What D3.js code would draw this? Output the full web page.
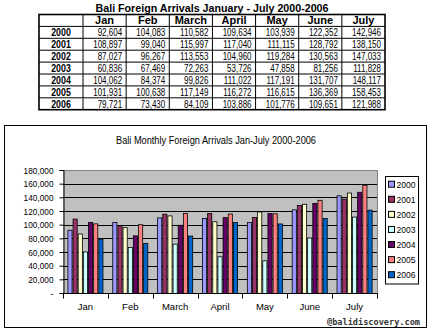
<!DOCTYPE html>
<html><head><meta charset="utf-8">
<script src="https://cdn.jsdelivr.net/npm/d3@7"></script>
<style>body{margin:0;background:#fff}svg{display:block}</style>
</head><body>
<svg id="c" width="431" height="330"></svg>
<script>
const months = ["Jan","Feb","March","April","May","June","July"];
const years = ["2000","2001","2002","2003","2004","2005","2006"];
const v2000 = [92604,104083,110582,109634,103939,122352,142946];
const v2001 = [108897,99040,115997,117040,111115,128792,138150];
const v2002 = [87027,96267,113553,104960,119284,130563,147033];
const v2003 = [60836,67469,72263,53726,47858,81256,111828];
const v2004 = [104062,84374,99826,111022,117191,131707,148117];
const v2005 = [101931,100638,117149,116272,116615,136369,158453];
const v2006 = [79721,73430,84109,103886,101776,109651,121988];
const yTicks = [0,20000,40000,60000,80000,100000,120000,140000,160000,180000];
const colors = ["#9999FF","#993366","#FFFFCC","#CCFFFF","#660066","#FF8080","#0066CC"];
const tableTitle = "Bali Foreign Arrivals January - July 2000-2006";
const chartTitle = "Bali Monthly Foreign Arrivals Jan-July 2000-2006";
const credit = "@balidiscovery.com";

const series = [v2000,v2001,v2002,v2003,v2004,v2005,v2006];
const svg = d3.select("#c");
const F = "'Liberation Sans', Arial, sans-serif";

function squeeze(sel, f){
  sel.each(function(){
    const w = this.getComputedTextLength();
    this.setAttribute("textLength", w*f);
    this.setAttribute("lengthAdjust","spacingAndGlyphs");
  });
}

// ---------- Table ----------
const tL = 39, tR = 385, tTop = 14.5, rowH = 11.9, hdrW = 44;
const colX = d3.scaleBand().domain(months).range([tL+hdrW, tR]);
const rowY = d3.scaleBand().domain(["hdr"].concat(years)).range([tTop, tTop + rowH*8]);
const fmt = d3.format(",");

svg.append("text").attr("x",(tL+tR)/2).attr("y",12).attr("text-anchor","middle")
  .attr("font-family",F).attr("font-weight","bold").attr("font-size",11)
  .attr("textLength",233).attr("lengthAdjust","spacingAndGlyphs").text(tableTitle);

const tb = svg.append("g");
// horizontal lines
rowY.domain().forEach((r,i)=>{
  if(i>0) tb.append("line").attr("x1",tL).attr("x2",tR).attr("y1",rowY(r)).attr("y2",rowY(r)).attr("stroke","#000");
});
// vertical lines
months.forEach(m=>{
  tb.append("line").attr("x1",colX(m)).attr("x2",colX(m)).attr("y1",tTop).attr("y2",tTop+rowH*8).attr("stroke","#000");
});
tb.append("rect").attr("x",tL).attr("y",tTop).attr("width",tR-tL).attr("height",rowH*8)
  .attr("fill","none").attr("stroke","#000").attr("stroke-width",1.6);

// header
tb.selectAll("text.h").data(months).join("text").attr("class","h")
  .attr("x",d=>colX(d)+colX.bandwidth()/2).attr("y",rowY("hdr")+rowH/2+4)
  .attr("text-anchor","middle").attr("font-family",F).attr("font-weight","bold").attr("font-size",11)
  .text(d=>d);
// year labels
tb.selectAll("text.y").data(years).join("text").attr("class","y")
  .attr("x",tL+hdrW/2).attr("y",d=>rowY(d)+rowH/2+4)
  .attr("text-anchor","middle").attr("font-family",F).attr("font-weight","bold").attr("font-size",11)
  .text(d=>d).call(squeeze,0.8);
// values
years.forEach((yr,yi)=>{
  tb.selectAll("text.v"+yr).data(series[yi]).join("text")
    .attr("x",(d,i)=>colX(months[i])+colX.bandwidth()-4).attr("y",rowY(yr)+rowH/2+4)
    .attr("text-anchor","end").attr("font-family",F).attr("font-size",10)
    .text(d=>fmt(d)).call(squeeze,0.8);
});

// ---------- Chart ----------
svg.append("rect").attr("x",4.5).attr("y",125.5).attr("width",422).attr("height",202)
  .attr("fill","#fff").attr("stroke","#000");

svg.append("text").attr("x",216).attr("y",143.5).attr("text-anchor","middle")
  .attr("font-family",F).attr("font-size",10)
  .attr("textLength",200).attr("lengthAdjust","spacingAndGlyphs").text(chartTitle);

const pL = 63, pR = 377, pT = 170, pB = 293;
const y = d3.scaleLinear().domain([0,180000]).range([pB,pT]);
const x0 = d3.scaleBand().domain(months).range([pL,pR]);
const gap = 4.4;
const x1 = d3.scaleBand().domain(years).range([gap, x0.bandwidth()-gap]);

svg.append("rect").attr("x",pL).attr("y",pT).attr("width",pR-pL).attr("height",pB-pT).attr("fill","#C0C0C0");
svg.append("g").selectAll("line").data(yTicks.slice(1)).join("line")
  .attr("x1",pL).attr("x2",pR).attr("y1",d=>Math.round(y(d))+0.5).attr("y2",d=>Math.round(y(d))+0.5)
  .attr("stroke",d=>d===180000?"#808080":"#000");
svg.append("line").attr("x1",pR+0.5).attr("x2",pR+0.5).attr("y1",pT).attr("y2",pB).attr("stroke","#808080");

const bars = svg.append("g");
years.forEach((yr,yi)=>{
  bars.selectAll("rect.b"+yr).data(series[yi]).join("rect")
    .attr("x",(d,i)=>x0(months[i])+x1(yr)+0.5).attr("width",x1.bandwidth()-1)
    .attr("y",d=>y(d)+0.5).attr("height",d=>pB-y(d))
    .attr("fill",colors[yi]).attr("stroke","#000").attr("stroke-width",0.8);
});

// Y axis
const yAxis = svg.append("g").attr("transform",`translate(${pL+0.5},0)`)
  .call(d3.axisLeft(y).tickValues(yTicks).tickSize(4).tickPadding(6)
    .tickFormat(d=>d===0?"-":fmt(d)));
yAxis.select(".domain").attr("stroke","#000");
yAxis.selectAll("line").attr("stroke","#000");
yAxis.selectAll("text").attr("font-family",F).attr("font-size",9.5).attr("fill","#000");
yAxis.selectAll("text").filter(d=>d!==0).call(squeeze,0.87);

// X axis
const xb = svg.append("g").attr("transform",`translate(0,${pB+0.5})`);
xb.append("line").attr("x1",pL).attr("x2",pR+1).attr("stroke","#000");
xb.selectAll("line.t").data(months.concat(["end"])).join("line").attr("class","t")
  .attr("x1",(d,i)=>Math.round(i<7?x0(d):pR)+0.5).attr("x2",(d,i)=>Math.round(i<7?x0(d):pR)+0.5)
  .attr("y1",0).attr("y2",5).attr("stroke","#000");
xb.selectAll("text").data(months).join("text")
  .attr("x",d=>x0(d)+x0.bandwidth()/2).attr("y",16.5).attr("text-anchor","middle")
  .attr("font-family",F).attr("font-size",9.5).text(d=>d);

// Legend
const lg = svg.append("g");
lg.append("rect").attr("x",385.5).attr("y",176.5).attr("width",33).attr("height",107.5)
  .attr("fill","#fff").attr("stroke","#000");
const ly = d3.scalePoint().domain(years).range([184.2,274.7]);
lg.selectAll("rect.s").data(years).join("rect").attr("class","s")
  .attr("x",388.5).attr("y",d=>ly(d)-3).attr("width",6).attr("height",6)
  .attr("fill",(d,i)=>colors[i]).attr("stroke","#000");
lg.selectAll("text").data(years).join("text")
  .attr("x",396.5).attr("y",d=>ly(d)+3.5).attr("font-family",F).attr("font-size",9.5)
  .text(d=>d).call(squeeze,0.9);

// Credit
svg.append("text").attr("x",420).attr("y",325).attr("text-anchor","end")
  .attr("font-family","'DejaVu Sans Mono', monospace").attr("font-weight","bold").attr("font-size",8.5)
  .attr("fill","#333").attr("textLength",93).attr("lengthAdjust","spacingAndGlyphs").text(credit);
</script>
</body></html>
